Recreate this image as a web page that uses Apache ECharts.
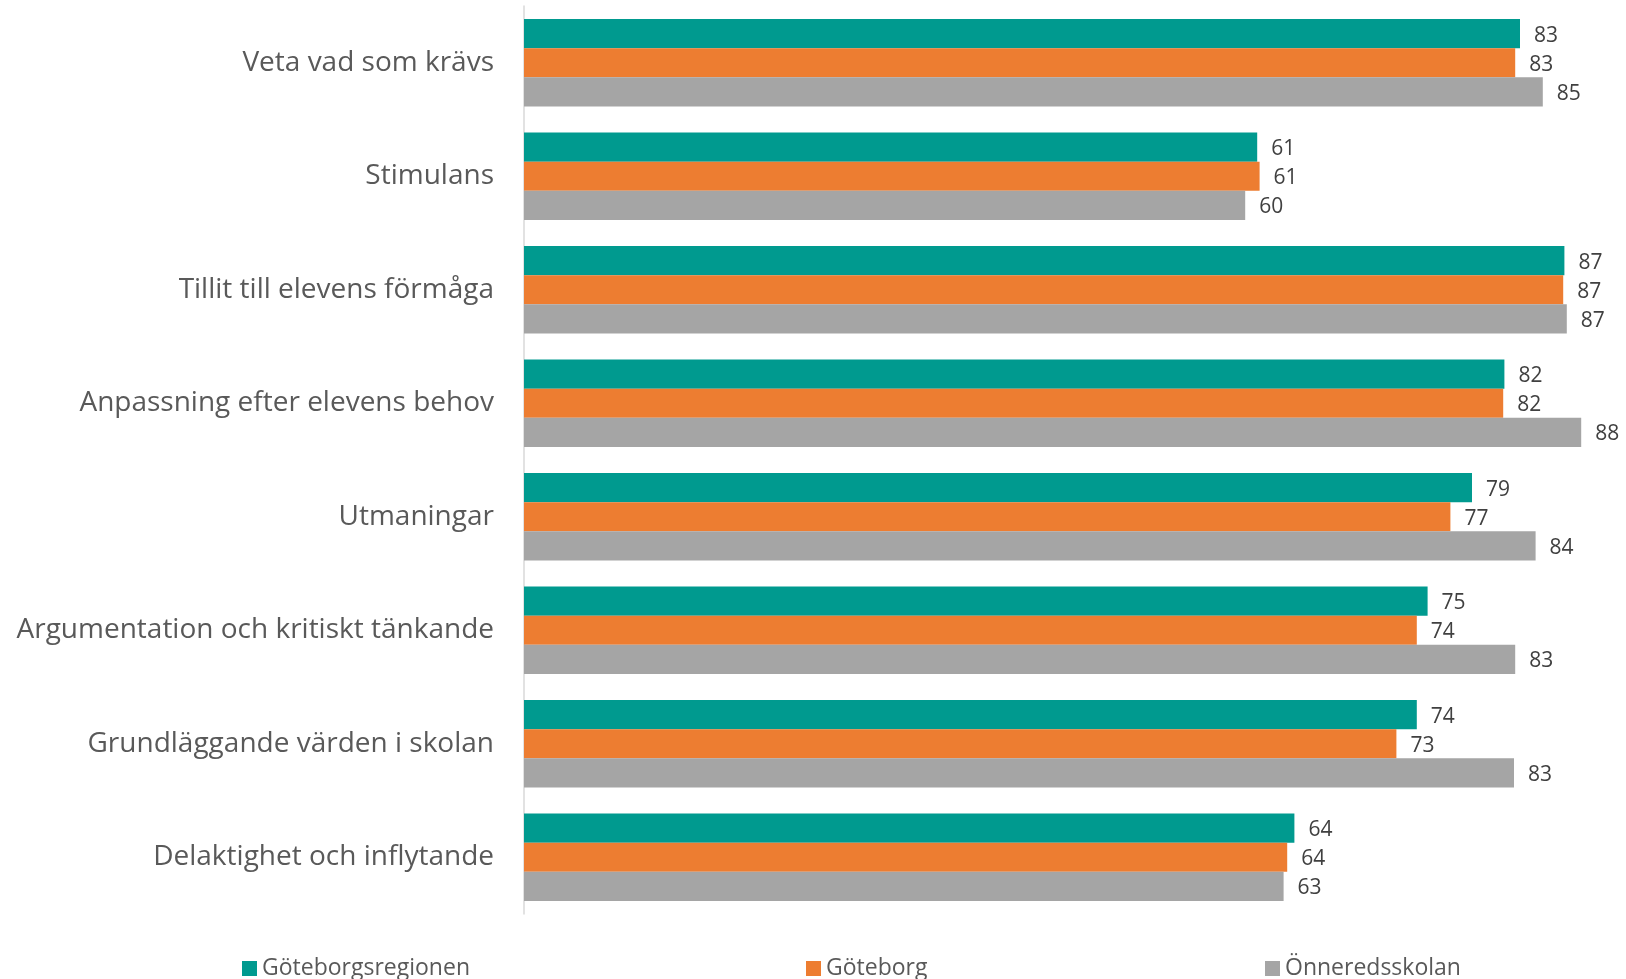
<!DOCTYPE html>
<html>
<head>
<meta charset="utf-8">
<script src="https://cdn.jsdelivr.net/npm/echarts@6/dist/echarts.min.js"></script>
<style>
  html, body { margin: 0; padding: 0; background: #fff; }
  #chart { width: 1626px; height: 979px; }
</style>
</head>
<body>
<div id="chart"></div>
<script>
// categories, top to bottom
const categories = [
  'Veta vad som krävs',
  'Stimulans',
  'Tillit till elevens förmåga',
  'Anpassning efter elevens behov',
  'Utmaningar',
  'Argumentation och kritiskt tänkande',
  'Grundläggande värden i skolan',
  'Delaktighet och inflytande'
]

const seriesNames = ['Göteborgsregionen', 'Göteborg', 'Önneredsskolan']

// values (labels show them rounded)
const regionen = [83.0, 61.1, 86.7, 81.7, 79.0, 75.3, 74.4, 64.2]
const goteborg = [82.6, 61.3, 86.6, 81.6, 77.2, 74.4, 72.7, 63.6]
const onnered = [84.9, 60.1, 86.9, 88.1, 84.3, 82.6, 82.5, 63.3]

const colors = ['#009A8F', '#ED7D31', '#A5A5A5']
const font = '"Open Sans", "Noto Sans", sans-serif'

function makeSeries(name, data, color) {
  return {
    name: name,
    type: 'bar',
    data: data,
    barGap: '0%',
    barCategoryGap: '23%',
    itemStyle: { color: color },
    label: {
      show: true,
      position: 'right',
      distance: 14,
      offset: [0, 2],
      color: '#404040',
      fontFamily: font,
      fontSize: 21,
      formatter: p => Math.round(p.value)
    }
  }
}

const legendStyle = {
  bottom: -6,
  icon: 'rect',
  itemWidth: 15,
  itemHeight: 15,
  itemGap: 6,
  textStyle: { color: '#595959', fontFamily: font, fontSize: 23, padding: [0, 0, 0, 0] }
}

const chart = echarts.init(document.getElementById('chart'))
chart.setOption({
  animation: false,
  color: colors,
  grid: { left: 524, top: 6, height: 908, right: 22, containLabel: false },
  legend: [
    Object.assign({ left: 237, data: [seriesNames[0]] }, legendStyle),
    Object.assign({ left: 801, data: [seriesNames[1]] }, legendStyle),
    Object.assign({ left: 1260, data: [seriesNames[2]] }, legendStyle)
  ],
  xAxis: {
    type: 'value',
    min: 0,
    max: 90,
    show: false
  },
  yAxis: {
    type: 'category',
    data: categories,
    inverse: true,
    axisLine: { show: true, lineStyle: { color: '#D9D9D9', width: 1.5 } },
    axisTick: { show: false },
    axisLabel: {
      margin: 30,
      color: '#595959',
      fontFamily: font,
      fontSize: 28,
      padding: [4, 0, 0, 0]
    }
  },
  series: [
    makeSeries(seriesNames[0], regionen, colors[0]),
    makeSeries(seriesNames[1], goteborg, colors[1]),
    makeSeries(seriesNames[2], onnered, colors[2])
  ]
})
</script>
</body>
</html>
